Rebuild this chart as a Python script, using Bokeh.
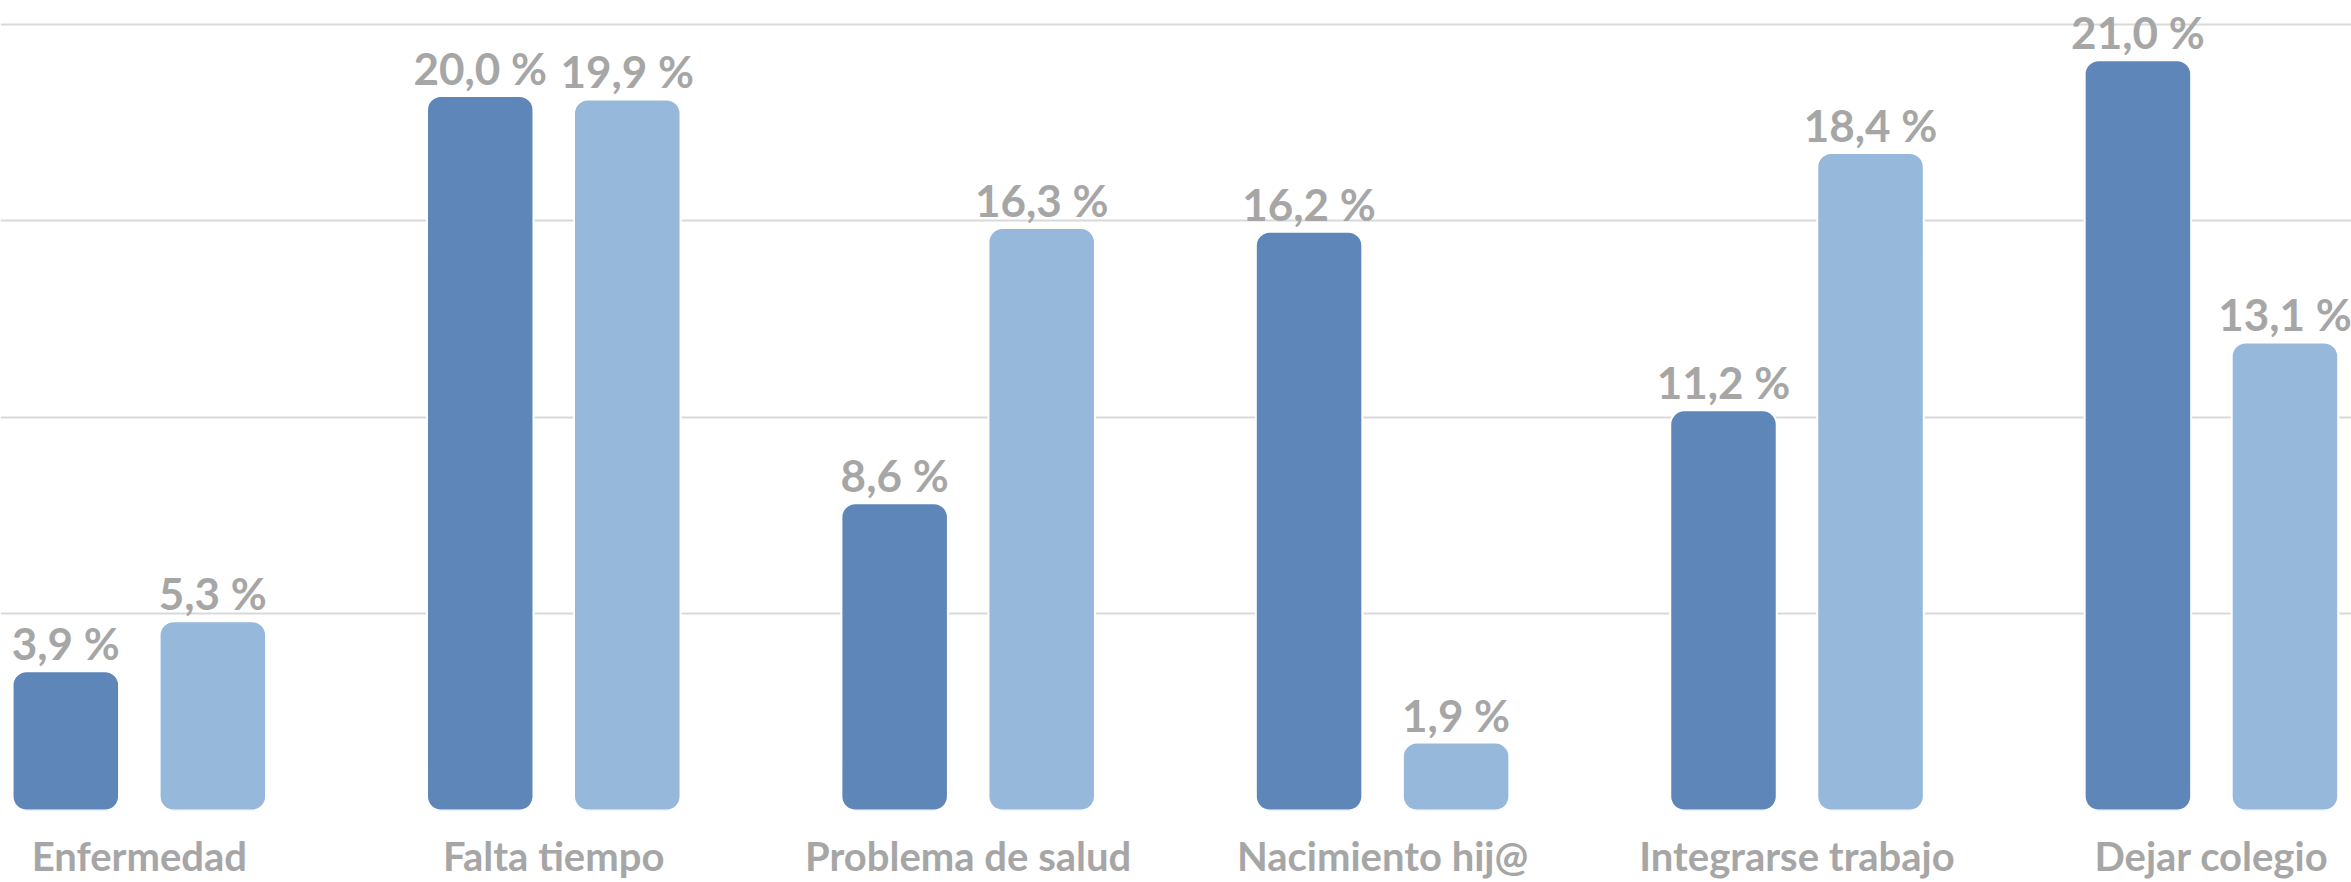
from bokeh.plotting import figure
from bokeh.models import ColumnDataSource, FixedTicker, Range1d
from bokeh.core.properties import value
from bokeh.embed import file_html
from bokeh.resources import INLINE

categories = ["Enfermedad", "Falta tiempo", "Problema de salud",
              "Nacimiento hij@", "Integrarse trabajo", "Dejar colegio"]
serie_a = [3.9, 20.0, 8.6, 16.2, 11.2, 21.0]
serie_b = [5.3, 19.9, 16.3, 1.9, 18.4, 13.1]
grid_ticks = [5.5, 11, 16.5, 22]

DARK = "#5E86B8"
LIGHT = "#96B8DA"
GREY = "#A6A6A6"
FONT = "Lato"

idx = list(range(len(categories)))
off = 0.1774
w = 0.257

def fmt(v):
    return f"{v:.1f}".replace(".", ",") + " %"

src_a = ColumnDataSource(dict(x=[i - off for i in idx], y=serie_a, lab=[fmt(v) for v in serie_a]))
src_b = ColumnDataSource(dict(x=[i + off for i in idx], y=serie_b, lab=[fmt(v) for v in serie_b]))

p = figure(width=2351, height=882, output_backend="svg", toolbar_location=None,
           x_range=Range1d(-0.335, 5.338), y_range=Range1d(0, 22.67),
           min_border=0, outline_line_color=None)

p.vbar(x="x", top="y", width=w, source=src_a, fill_color=DARK, line_color="white",
       line_width=2, border_radius=14)
p.vbar(x="x", top="y", width=w, source=src_b, fill_color=LIGHT, line_color="white",
       line_width=2, border_radius=14)

for s in (src_a, src_b):
    p.text(x="x", y="y", text="lab", source=s, text_align="center",
           text_baseline="alphabetic", y_offset=-28, text_color=GREY,
           text_font=value(FONT), text_font_size="44px", text_font_style="bold")

p.yaxis.ticker = FixedTicker(ticks=grid_ticks)
p.yaxis.visible = False
p.ygrid.grid_line_color = "#D9D9D9"
p.ygrid.grid_line_width = 2
p.xgrid.visible = False

p.xaxis.ticker = FixedTicker(ticks=idx)
p.xaxis.major_label_overrides = {i: c for i, c in zip(idx, categories)}
p.xaxis.axis_line_color = None
p.xaxis.major_tick_line_color = None
p.xaxis.minor_tick_line_color = None
p.xaxis.major_label_text_font = FONT
p.xaxis.major_label_text_font_size = "40px"
p.xaxis.major_label_text_font_style = "bold"
p.xaxis.major_label_text_color = GREY
p.xaxis.major_label_standoff = 15

open("out.html", "w").write(file_html(p, INLINE))
